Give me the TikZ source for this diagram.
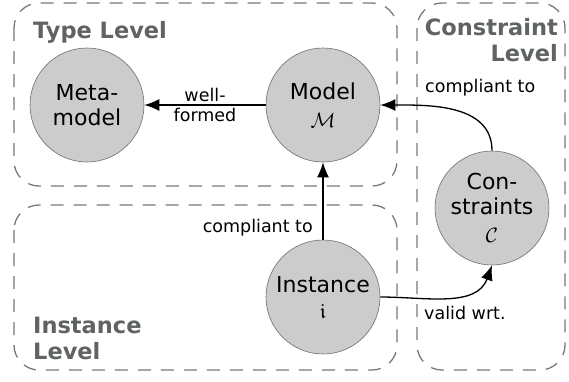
\documentclass[tikz,border=0pt]{standalone}
\usepackage{amssymb}
\usepackage{fontspec}
\setmainfont{DejaVu Sans}
\usetikzlibrary{arrows.meta}
\definecolor{boxgray}{HTML}{787878}
\definecolor{titlegray}{HTML}{5F6361}
\definecolor{circfill}{HTML}{CCCCCC}
\definecolor{circline}{HTML}{6E6E6E}
\tikzset{
  levelbox/.style={draw=boxgray, line width=1.3pt, dash pattern=on 13pt off 10pt, rounded corners=25pt},
  leveltitle/.style={text=titlegray, font=\fontsize{22.5}{26}\selectfont\bfseries, inner sep=0pt},
  circ/.style={circle, draw=circline, line width=0.6pt, fill=circfill, minimum size=114pt, inner sep=0pt, align=center, font=\fontsize{22}{25}\selectfont},
  conn/.style={line width=1.3pt, -{Latex[length=15pt,width=12pt]}},
  lbl/.style={font=\fontsize{17.5}{19}\selectfont, inner sep=0pt, align=center}
}
\newcommand{\symsize}{\fontsize{21}{22}\selectfont}
\begin{document}
\begin{tikzpicture}[x=1pt,y=-1pt]
\useasboundingbox (0,0) rectangle (569,381);
% level boxes
\draw[levelbox] (14,3) rectangle (397,186);
\draw[levelbox] (417,3) rectangle (565,370);
\draw[levelbox] (14,205) rectangle (397,370);
% titles
\node[leveltitle, anchor=west] (tl) at (33,32) {Type Level};
\node[leveltitle, anchor=north east, align=right] (cl) at (558,18) {Constraint\\Level};
\node[leveltitle, anchor=south west, align=left] (il) at (33,360) {Instance\\Level};
% circles
\node[circ] (meta) at (87,105) {Meta-\\model};
\node[circ] (model) at (323,105) {Model\\[3pt]{\symsize$\mathcal{M}$}};
\node[circ] (cons) at (492,208) {Con-\\straints\\[3pt]{\symsize$\mathcal{C}$}};
\node[circ] (inst) at (323,297) {Instance\\[1pt]{\symsize$\mathfrak{i}$}};
% connectors
\draw[conn] (model.west) -- node[lbl] (wf) {well-\\[1pt]formed} (meta.east);
\draw[conn] (inst.north) -- (model.south);
\node[lbl, anchor=east] (ct1) at (313,228) {compliant to};
\draw[conn] (cons.north) to[out=90, in=0] (model.east);
\node[lbl, anchor=west] (ct2) at (425,88) {compliant to};
\draw[conn] (inst.east) to[out=0, in=-110] (cons.south);
\node[lbl, anchor=west] (vw) at (424,313) {valid wrt.};
\end{tikzpicture}
\end{document}
